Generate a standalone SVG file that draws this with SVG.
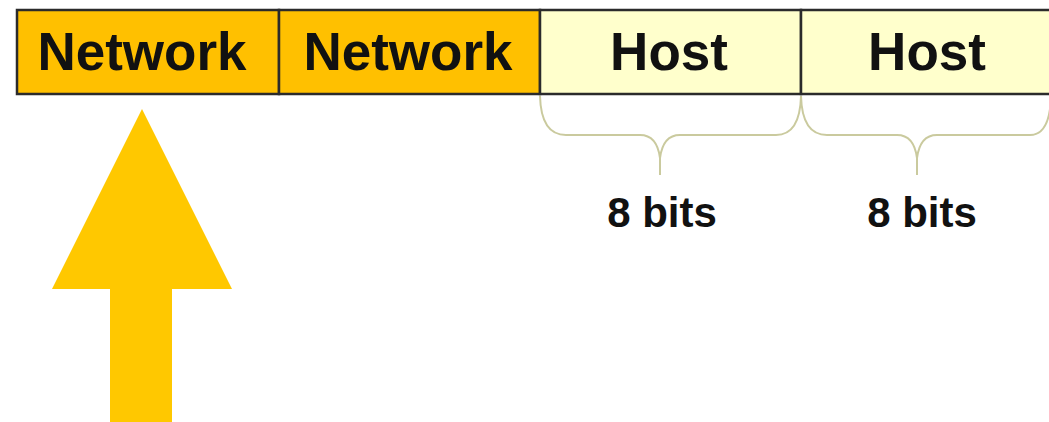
<svg xmlns="http://www.w3.org/2000/svg" width="1049" height="422" viewBox="0 0 1049 422">
<style>
.cell{stroke:#2b2b2b;stroke-width:2.5}
.net{fill:#FFC000}
.host{fill:#FFFFCC}
.lbl{font-family:"Liberation Sans",Arial,sans-serif;font-weight:bold;font-size:53px;fill:#111;text-anchor:middle}
.bits{font-family:"Liberation Sans",Arial,sans-serif;font-weight:bold;font-size:42px;fill:#111;text-anchor:middle}
.brace{fill:none;stroke:#CACA9E;stroke-width:2}
</style>
<rect width="1049" height="422" fill="#ffffff"/>
<g id="net1"><rect class="cell net" x="17" y="10" width="262" height="84"/><text class="lbl" x="142" y="70">Network</text></g>
<g id="net2"><rect class="cell net" x="279" y="10" width="261" height="84"/><text class="lbl" x="408" y="70">Network</text></g>
<g id="host1"><rect class="cell host" x="540" y="10" width="261" height="84"/><text class="lbl" x="669" y="70">Host</text></g>
<g id="host2"><rect class="cell host" x="801" y="10" width="262" height="84"/><text class="lbl" x="927" y="70">Host</text></g>
<g id="brace1"><path class="brace" d="M540,96 Q541,135 566,135 H640 Q657,135 660,158 V175 M660,158 Q663,135 680,135 H776 Q800,135 801,96"/><text class="bits" x="662" y="227">8 bits</text></g>
<g id="brace2"><path class="brace" d="M801,96 Q802,135 827,135 H897 Q914,135 917,158 V175 M917,158 Q920,135 937,135 H1030 Q1050,135 1051,96"/><text class="bits" x="922" y="227">8 bits</text></g>
<g id="arrow"><polygon points="142,109 232,289 172,289 172,422 110,422 110,289 52,289" fill="#FFC800"/></g>
<g id="connectors"></g>
</svg>
